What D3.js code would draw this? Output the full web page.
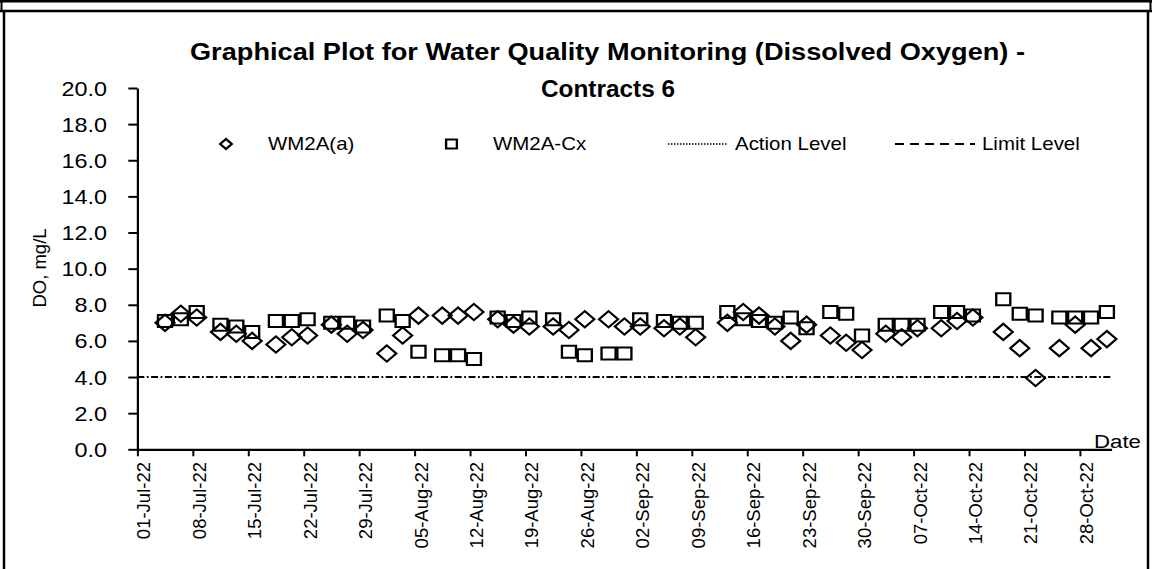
<!DOCTYPE html>
<html>
<head>
<meta charset="utf-8">
<script src="https://cdn.jsdelivr.net/npm/d3@7"></script>
<style>
  html, body { margin: 0; padding: 0; background: #fff; }
  svg { display: block; }
  text { font-family: "Liberation Sans", Arial, sans-serif; fill: #000; }
</style>
</head>
<body>
<div id="chart"></div>
<script>
// ---------------- DATA ----------------
const sampleTimes = [
  "2022-07-04 12:00","2022-07-06 12:00","2022-07-08 12:00",
  "2022-07-11 12:00","2022-07-13 12:00","2022-07-15 12:00",
  "2022-07-18 12:00","2022-07-20 12:00","2022-07-22 12:00",
  "2022-07-25 12:00","2022-07-27 12:00","2022-07-29 12:00",
  "2022-08-01 12:00","2022-08-03 12:00","2022-08-05 12:00",
  "2022-08-08 12:00","2022-08-10 12:00","2022-08-12 12:00",
  "2022-08-15 12:00","2022-08-17 12:00","2022-08-19 12:00",
  "2022-08-22 12:00","2022-08-24 12:00","2022-08-26 12:00",
  "2022-08-29 12:00","2022-08-31 12:00","2022-09-02 12:00",
  "2022-09-05 12:00","2022-09-07 12:00","2022-09-09 12:00",
  "2022-09-13 12:00","2022-09-15 12:00","2022-09-17 12:00",
  "2022-09-19 12:00","2022-09-21 12:00","2022-09-23 12:00",
  "2022-09-26 12:00","2022-09-28 12:00","2022-09-30 12:00",
  "2022-10-03 12:00","2022-10-05 12:00","2022-10-07 12:00",
  "2022-10-10 12:00","2022-10-12 12:00","2022-10-14 12:00",
  "2022-10-18 08:00","2022-10-20 10:00","2022-10-22 10:00",
  "2022-10-25 10:00","2022-10-27 10:00","2022-10-29 10:00","2022-10-31 10:00"
];
const wm2aValues = [
  7.0, 7.5, 7.3,
  6.5, 6.4, 6.0,
  5.8, 6.2, 6.3,
  6.9, 6.4, 6.6,
  5.3, 6.3, 7.4,
  7.4, 7.4, 7.6,
  7.2, 6.9, 6.8,
  6.8, 6.6, 7.2,
  7.2, 6.8, 6.8,
  6.7, 6.8, 6.2,
  7.0, 7.6, 7.4,
  6.8, 6.0, 6.9,
  6.3, 5.9, 5.5,
  6.4, 6.2, 6.7,
  6.7, 7.1, 7.3,
  6.5, 5.6, 3.95,
  5.6, 6.9, 5.6, 6.1
];
const wm2aCxValues = [
  7.1, 7.2, 7.6,
  6.9, 6.8, 6.5,
  7.1, 7.1, 7.2,
  7.0, 7.0, 6.8,
  7.4, 7.1, 5.4,
  5.2, 5.2, 5.0,
  7.3, 7.1, 7.3,
  7.2, 5.4, 5.2,
  5.3, 5.3, 7.2,
  7.1, 7.0, 7.0,
  7.6, 7.2, 7.1,
  7.0, 7.3, 6.7,
  7.6, 7.5, 6.3,
  6.9, 6.9, 6.9,
  7.6, 7.6, 7.4,
  8.3, 7.5, 7.4,
  7.3, 7.3, 7.3, 7.6
];
const xTickLabels = [
  "01-Jul-22","08-Jul-22","15-Jul-22","22-Jul-22","29-Jul-22",
  "05-Aug-22","12-Aug-22","19-Aug-22","26-Aug-22",
  "02-Sep-22","09-Sep-22","16-Sep-22","23-Sep-22","30-Sep-22",
  "07-Oct-22","14-Oct-22","21-Oct-22","28-Oct-22"
];
const xDomainLabels = ["01-Jul-22", "01-Nov-22"];
const yTicks = [0, 2, 4, 6, 8, 10, 12, 14, 16, 18, 20];
const actionLevel = 4.0;
const seriesNames = ["WM2A(a)", "WM2A-Cx", "Action Level", "Limit Level"];
const titleLines = ["Graphical Plot for Water Quality Monitoring (Dissolved Oxygen) -", "Contracts 6"];
const yAxisTitle = "DO, mg/L";
const xAxisTitle = "Date";

// ---------------- LAYOUT ----------------
const W = 1152, H = 569;
const S = 1.17;              // horizontal stretch of the original picture
const VW = W / S;
const px = v => v / S;       // screen px -> viewBox x units

const parseTime = d3.timeParse("%Y-%m-%d %H:%M");
const parseTick = d3.timeParse("%d-%b-%y");
const fmtTick = d3.timeFormat("%d-%b-%y");

const svg = d3.select("#chart").append("svg")
  .attr("width", W).attr("height", H)
  .attr("viewBox", `0 0 ${VW} ${H}`)
  .attr("preserveAspectRatio", "none");

svg.append("rect").attr("x", 0).attr("y", 0).attr("width", VW).attr("height", H).attr("fill", "#fff");

// frame
const frame = svg.append("g").attr("stroke", "#000").attr("fill", "none");
frame.append("line").attr("x1", 0).attr("x2", VW).attr("y1", 1.2).attr("y2", 1.2).attr("stroke-width", 2.4);
frame.append("line").attr("x1", 0).attr("x2", VW).attr("y1", 11).attr("y2", 11).attr("stroke-width", 2.4);
frame.append("line").attr("x1", px(1.5)).attr("x2", px(1.5)).attr("y1", 0).attr("y2", 12).attr("stroke-width", px(2));
frame.append("line").attr("x1", px(1150.5)).attr("x2", px(1150.5)).attr("y1", 0).attr("y2", 12).attr("stroke-width", px(2));
frame.append("line").attr("x1", px(4)).attr("x2", px(4)).attr("y1", 10).attr("y2", H).attr("stroke-width", px(2.5));
frame.append("line").attr("x1", px(1148)).attr("x2", px(1148)).attr("y1", 10).attr("y2", H).attr("stroke-width", px(2.5));

const x = d3.scaleTime()
  .domain(xDomainLabels.map(parseTick))
  .range([px(137.3), px(1111.5)]);
const y = d3.scaleLinear().domain([0, 20]).range([449.3, 88]);

// title
svg.append("text").attr("x", px(607.5)).attr("y", 60)
  .attr("text-anchor", "middle").attr("font-weight", "bold").attr("font-size", 24)
  .attr("textLength", px(835)).attr("lengthAdjust", "spacingAndGlyphs")
  .text(titleLines[0]);
svg.append("text").attr("x", px(608)).attr("y", 97)
  .attr("text-anchor", "middle").attr("font-weight", "bold").attr("font-size", 24)
  .attr("textLength", px(134)).attr("lengthAdjust", "spacingAndGlyphs")
  .text(titleLines[1]);

// y axis
const yAxis = svg.append("g").attr("transform", `translate(${x.range()[0]},0)`)
  .call(d3.axisLeft(y).tickValues(yTicks).tickFormat(d3.format(".1f"))
    .tickSize(px(9)).tickSizeOuter(0));
yAxis.select(".domain").attr("stroke", "#000").attr("stroke-width", px(2.2));
yAxis.selectAll(".tick line").attr("stroke", "#000").attr("stroke-width", 2);
yAxis.selectAll(".tick text")
  .attr("font-size", 20).attr("font-family", "Liberation Sans").attr("fill", "#000")
  .attr("text-anchor", "end").attr("x", px(107 - 137.3)).attr("dy", "0.35em");

// x axis
const xAxis = svg.append("g").attr("transform", `translate(0,${y(0)})`)
  .call(d3.axisBottom(x).tickValues(xTickLabels.map(parseTick)).tickFormat(fmtTick)
    .tickSize(7).tickSizeOuter(0));
xAxis.select(".domain").attr("stroke", "#000").attr("stroke-width", 2.2);
xAxis.selectAll(".tick line").attr("stroke", "#000").attr("stroke-width", px(2));
xAxis.selectAll(".tick text")
  .attr("font-size", 18.5).attr("font-family", "Liberation Sans").attr("fill", "#000")
  .attr("transform", `scale(${1 / S},1) rotate(-90)`)
  .attr("text-anchor", "end")
  .attr("x", -12.7).attr("y", 12.5).attr("dy", 0);

// axis titles
svg.append("text").attr("transform", `translate(${px(40)},268) scale(${1 / S},1) rotate(-90)`)
  .attr("text-anchor", "middle").attr("dy", "0.35em").attr("font-size", 18.5).text(yAxisTitle);
svg.append("text").attr("x", px(1094)).attr("y", 448).attr("font-size", 19).text(xAxisTitle);

// action level line
svg.append("line")
  .attr("x1", x.range()[0]).attr("x2", x.range()[1])
  .attr("y1", y(actionLevel)).attr("y2", y(actionLevel))
  .attr("stroke", "#000").attr("stroke-width", 2)
  .attr("stroke-dasharray", [px(7), px(2.5), px(1.8), px(2.5)].join(","));

// markers
const diamondPath = d3.symbol(d3.symbolSquare, 132)();
const squarePath = d3.symbol(d3.symbolSquare, 144)();
const pts = sampleTimes.map((t, i) => ({ t: parseTime(t), a: wm2aValues[i], c: wm2aCxValues[i] }));

svg.append("g").selectAll("path").data(pts).join("path")
  .attr("d", diamondPath)
  .attr("transform", d => `translate(${x(d.t)},${y(d.a)}) rotate(45)`)
  .attr("fill", "none").attr("stroke", "#000").attr("stroke-width", 2);
svg.append("g").selectAll("path").data(pts).join("path")
  .attr("d", squarePath)
  .attr("transform", d => `translate(${x(d.t)},${y(d.c)})`)
  .attr("fill", "none").attr("stroke", "#000").attr("stroke-width", 2);

// legend
const lg = svg.append("g");
const legY = 144;
lg.append("path").attr("d", d3.symbol(d3.symbolSquare, 50)())
  .attr("transform", `translate(${px(226)},${legY}) rotate(45)`)
  .attr("fill", "none").attr("stroke", "#000").attr("stroke-width", 2);
lg.append("text").attr("x", px(268)).attr("y", legY + 6).attr("font-size", 17.5).text(seriesNames[0]);
lg.append("path").attr("d", d3.symbol(d3.symbolSquare, 85)())
  .attr("transform", `translate(${px(451.5)},${legY})`)
  .attr("fill", "none").attr("stroke", "#000").attr("stroke-width", 2);
lg.append("text").attr("x", px(493)).attr("y", legY + 6).attr("font-size", 17.5).text(seriesNames[1]);
lg.append("line").attr("x1", px(668)).attr("x2", px(728)).attr("y1", legY).attr("y2", legY)
  .attr("stroke", "#000").attr("stroke-width", 1.3).attr("stroke-dasharray", `${px(1.5)},${px(1.5)}`);
lg.append("text").attr("x", px(735)).attr("y", legY + 6).attr("font-size", 17.5).text(seriesNames[2]);
lg.append("line").attr("x1", px(895)).attr("x2", px(975)).attr("y1", legY).attr("y2", legY)
  .attr("stroke", "#000").attr("stroke-width", 2).attr("stroke-dasharray", `${px(9)},${px(6)}`);
lg.append("text").attr("x", px(982)).attr("y", legY + 6).attr("font-size", 17.5).text(seriesNames[3]);
</script>
</body>
</html>
